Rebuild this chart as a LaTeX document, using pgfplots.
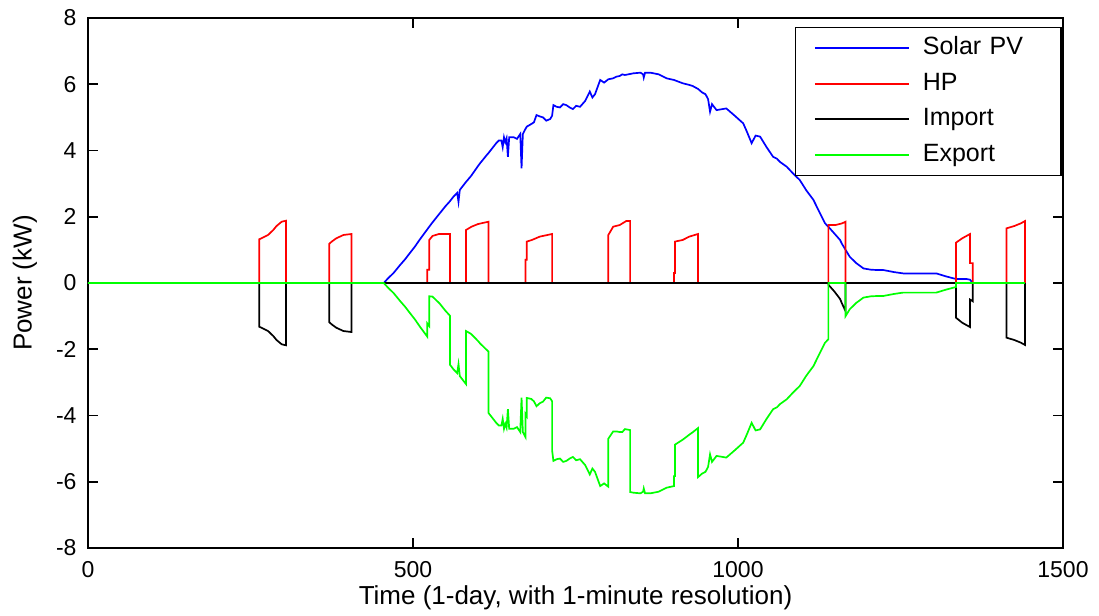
\documentclass[border=0pt]{standalone}
\usepackage{fontspec}
\setmainfont{Liberation Sans}
\usepackage{pgfplots}
\pgfplotsset{compat=1.18}
\definecolor{pvblue}{RGB}{0,0,255}
\definecolor{hpred}{RGB}{255,0,0}
\definecolor{exgreen}{RGB}{0,255,0}
\begin{document}
\begin{tikzpicture}
\begin{axis}[
  scale only axis,
  width=487.5pt, height=265pt,
  xmin=0, xmax=1500, ymin=-8, ymax=8,
  xtick={0,500,1000,1500},
  ytick={-8,-6,-4,-2,0,2,4,6,8},
  tick align=inside,
  major tick length=5pt,
  axis line style={line width=0.8pt},
  every tick/.style={black, line width=0.8pt},
  /pgf/number format/assume math mode=true,
  /pgf/number format/1000 sep={},
  tick label style={font=\fontsize{11.5}{13}\selectfont},
  xticklabel style={yshift=-3pt},
  yticklabel style={xshift=-2.2pt},
  xlabel={Time (1-day, with 1-minute resolution)},
  ylabel={Power (kW)},
  label style={font=\fontsize{13}{15}\selectfont},
  xlabel style={at={(axis description cs:0.5,0)}, anchor=center, yshift=-25pt},
  ylabel style={at={(axis description cs:0,0.5)}, anchor=center, yshift=31.5pt},
  legend style={draw=black, line width=0.8pt, at={(1,1)}, anchor=north east,
    xshift=-0.65pt, yshift=-4.35pt, inner xsep=0pt, inner ysep=4pt,
    row sep=5.3pt, column sep=6.5pt,
    nodes={inner sep=0pt, text width=69pt, align=left, text height=9.5pt, text depth=3pt,
      font=\fontsize{12.5}{14}\selectfont}},
  legend cell align=left,
  legend image code/.code={\path (0pt,0pt); \draw[#1, line width=1pt] (9.35pt,0pt) -- (56.35pt,0pt);},
  every axis plot/.append style={line width=0.85pt},
]
\coordinate (SW) at (rel axis cs:0,0);
\addplot[color=pvblue] coordinates {
(0,0) (455,0) (462,0.15) (470,0.3) (480,0.54) (488,0.72) (495,0.9) (503,1.1) (510,1.3) (522,1.62) (525,1.7) (530,1.83) (541,2.1) (550,2.32) (556,2.45) (562,2.6) (568,2.72) (570,2.45) (572,2.81) (581.5,3.05) (588,3.2) (590,3.25) (600,3.53) (603,3.61) (615,3.9) (616,3.92) (628,4.22) (632,4.3) (636,4.3) (638,4.1) (640,4.4) (642,4.25) (644,4.37) (646,3.81) (648,4.4) (655,4.4) (660,4.35) (665,4.5) (667,3.46) (669,4.5) (673,4.65) (675,4.72) (682,4.8) (686,4.85) (690,5.07) (695,5.03) (700,5.0) (705,4.9) (711,4.95) (714,5.05) (716,5.37) (721,5.32) (726,5.3) (731,5.4) (736,5.37) (741,5.3) (746,5.25) (751,5.35) (757,5.32) (765,5.5) (772,5.78) (776,5.6) (780,5.7) (788,6.13) (794,6.05) (800.5,6.15) (808,6.18) (813,6.23) (818,6.25) (822,6.3) (826,6.28) (834,6.31) (839,6.33) (850,6.35) (854,6.3) (855,6.2) (857,6.35) (865,6.35) (878,6.3) (890,6.18) (901.5,6.13) (915,6.03) (925,5.98) (930,5.95) (938.5,5.86) (945,5.75) (950,5.7) (954,5.55) (957,5.17) (960,5.4) (967,5.22) (982,5.27) (995,5.05) (1008,4.82) (1013,4.6) (1021,4.22) (1027,4.45) (1034,4.42) (1044,4.1) (1054,3.81) (1060,3.75) (1065,3.65) (1075,3.51) (1085,3.3) (1095,3.11) (1105,2.8) (1116,2.51) (1125,2.15) (1134,1.8) (1139,1.7) (1148,1.5) (1157,1.3) (1160,1.18) (1165.5,1.0) (1172,0.79) (1182,0.6) (1193,0.44) (1205,0.4) (1218,0.39) (1224,0.39) (1240,0.33) (1254,0.29) (1280,0.29) (1305,0.29) (1320,0.2) (1335.5,0.12) (1345,0.12) (1352,0.12) (1357,0.1) (1359,0.05) (1362,0) (1441.5,0)
};
\addlegendentry{Solar PV}
\addplot[color=hpred] coordinates {
(0,0) (263.5,0) (263.5,1.32) (270,1.38) (277,1.45) (285,1.6) (290,1.72) (298,1.85) (304.5,1.88) (304.5,0)
(371,0) (371,1.18) (375,1.25) (382,1.35) (393,1.45) (405.5,1.48) (405.5,0)
(522,0) (522,0.4) (525,0.4) (525,1.3) (530,1.42) (540,1.48) (557,1.48) (557,0)
(581.5,0) (581.5,1.6) (590,1.7) (600,1.78) (616,1.85) (616,0)
(673,0) (673,0.7) (675,0.7) (675,1.25) (683,1.3) (695,1.4) (714,1.48) (714,0)
(800.5,0) (800.5,1.45) (808,1.7) (818,1.75) (828,1.87) (834,1.87) (834,0)
(901.5,0) (901.5,0.3) (903,0.3) (903,1.25) (915,1.3) (925,1.4) (938.5,1.48) (938.5,0)
(1139,0) (1139,1.75) (1150,1.75) (1160,1.8) (1165.5,1.85) (1165.5,0)
(1335.5,0) (1335.5,1.22) (1345,1.35) (1357,1.48) (1357,0.6) (1361,0.6) (1361,0)
(1413,0) (1413,1.65) (1425,1.72) (1435,1.8) (1441.5,1.87) (1441.5,0)
};
\addlegendentry{HP}
\addplot[color=black] coordinates {
(0,0) (263.5,0) (263.5,-1.32) (270,-1.38) (277,-1.45) (285,-1.6) (290,-1.72) (298,-1.85) (304.5,-1.88) (304.5,0)
(371,0) (371,-1.18) (375,-1.25) (382,-1.35) (393,-1.45) (405.5,-1.48) (405.5,0)
(1139,0) (1139,-0.05) (1148,-0.25) (1150,-0.3) (1157,-0.48) (1160,-0.62) (1165.5,-0.85) (1165.5,0)
(1335.5,0) (1335.5,-1.05) (1345,-1.2) (1357,-1.33) (1357,-0.5) (1361,-0.55) (1361,0)
(1375,0) (1413,0) (1413,-1.65) (1425,-1.72) (1435,-1.8) (1441.5,-1.87) (1441.5,0)
};
\addlegendentry{Import}
\addplot[color=exgreen] coordinates {
(0,0) (455,0) (462,-0.15) (470,-0.3) (480,-0.54) (488,-0.72) (495,-0.9) (503,-1.1) (510,-1.3) (522,-1.62) (522,-1.22) (525,-1.3) (525,-0.4) (530,-0.41) (541,-0.62) (550,-0.84) (557,-0.99) (557,-2.47) (562,-2.6) (568,-2.72) (570,-2.45) (572,-2.81) (581.5,-3.05) (581.5,-1.45) (588,-1.52) (590,-1.55) (600,-1.75) (603,-1.82) (615,-2.05) (616,-2.07) (616,-3.92) (628,-4.22) (632,-4.3) (636,-4.3) (638,-4.1) (640,-4.4) (642,-4.25) (644,-4.37) (646,-3.81) (648,-4.4) (655,-4.4) (660,-4.35) (665,-4.5) (667,-3.46) (669,-4.5) (673,-4.65) (673,-3.95) (675,-4.02) (675,-3.47) (682,-3.5) (683,-3.52) (686,-3.57) (690,-3.72) (695,-3.63) (700,-3.58) (705,-3.46) (711,-3.48) (714,-3.57) (714,-5.05) (716,-5.37) (721,-5.32) (726,-5.3) (731,-5.4) (736,-5.37) (741,-5.3) (746,-5.25) (751,-5.35) (757,-5.32) (765,-5.5) (772,-5.78) (776,-5.6) (780,-5.7) (788,-6.13) (794,-6.05) (800.5,-6.15) (800.5,-4.7) (808,-4.48) (813,-4.48) (818,-4.5) (822,-4.5) (826,-4.41) (834,-4.44) (834,-6.31) (839,-6.33) (850,-6.35) (854,-6.3) (855,-6.2) (857,-6.35) (865,-6.35) (878,-6.3) (890,-6.18) (901.5,-6.13) (901.5,-5.83) (903,-5.83) (903,-4.88) (915,-4.73) (925,-4.58) (930,-4.51) (938.5,-4.38) (938.5,-5.86) (945,-5.75) (950,-5.7) (954,-5.55) (957,-5.17) (960,-5.4) (967,-5.22) (982,-5.27) (995,-5.05) (1008,-4.82) (1013,-4.6) (1021,-4.22) (1027,-4.45) (1034,-4.42) (1044,-4.1) (1054,-3.81) (1060,-3.75) (1065,-3.65) (1075,-3.51) (1085,-3.3) (1095,-3.11) (1105,-2.8) (1116,-2.51) (1125,-2.15) (1134,-1.8) (1139,-1.7) (1139,0) (1165.5,0) (1165.5,-1.0) (1172,-0.79) (1182,-0.6) (1193,-0.44) (1205,-0.4) (1218,-0.39) (1224,-0.39) (1240,-0.33) (1254,-0.29) (1280,-0.29) (1305,-0.29) (1320,-0.2) (1335.5,-0.12) (1335.5,0) (1441.5,0)
};
\addlegendentry{Export}
\end{axis}
\pgfresetboundingbox
\path[use as bounding box] (SW) ++(-44pt,-34pt) rectangle ++(549.5pt,308pt);
\end{tikzpicture}
\end{document}
